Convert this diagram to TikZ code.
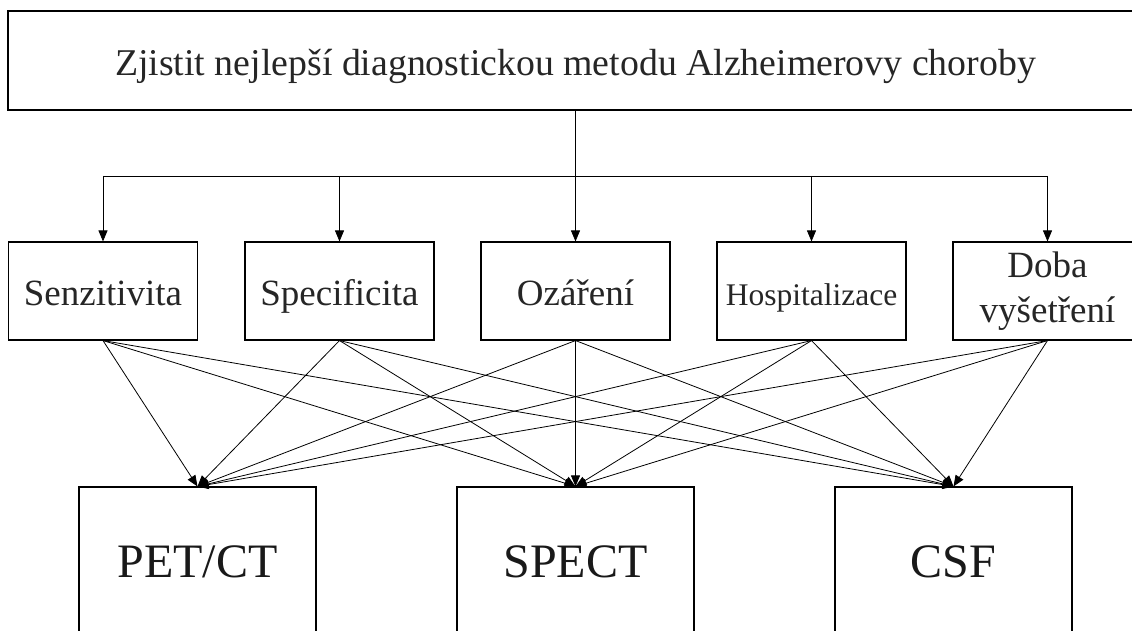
\documentclass[tikz,border=0pt]{standalone}
\usepackage{fontspec}
\setmainfont{Liberation Serif}
\usetikzlibrary{positioning, arrows.meta}

\tikzset{
  goalbox/.style={draw, line width=1.3pt, minimum width=1135pt, minimum height=99pt,
    inner sep=0pt, text height=33pt, text depth=2pt, text=black!85,
    font=\fontsize{37.8}{40}\selectfont},
  critbox/.style={draw, line width=1.1pt, minimum width=189pt, minimum height=98pt,
    inner sep=0pt, align=center, text=black!85, font=\fontsize{37}{45}\selectfont},
  onerow/.style={text height=30pt, text depth=2pt},
  methodbox/.style={draw, line width=1.1pt, minimum width=237pt, minimum height=150pt,
    inner sep=0pt, text=black!90, font=\fontsize{48}{52}\selectfont},
  link/.style={line width=0.8pt, -{Triangle[length=11pt,width=9pt]}},
}

\begin{document}
\begin{tikzpicture}[x=1pt, y=-1pt]

      \clip (0,0) rectangle (1132,631);
      \fill[white] (0,0) rectangle (1132,631);

      % Draw the goal box.
      \node[goalbox] (goal) at (575.5,60.5) {Zjistit nejlepší diagnostickou metodu Alzheimerovy choroby};

      % Draw the criteria boxes.
      \node[critbox, onerow] (senz) at (103,291) {Senzitivita};
      \node[critbox, onerow] (spec) at (339.5,291) {Specificita};
      \node[critbox, onerow] (ozar) at (575.5,291) {Ozáření};
      \node[critbox, onerow, font=\fontsize{31.5}{36}\selectfont] (hosp) at (811.5,291) {Hospitalizace};
      \node[critbox] (doba) at (1047.5,291) {Doba\\vyšetření};

      % Draw the method boxes.
      \node[methodbox] (pet) at (197.5,562) {PET/CT};
      \node[methodbox] (spect) at (575.5,562) {SPECT};
      \node[methodbox] (csf) at (953.5,562) {CSF};

      % Draw the branching arrows from the goal.
      \coordinate (bar) at (0,176);
      \draw[link] (goal.south) -- (ozar.north);
      \draw[line width=0.8pt] (bar -| senz.north) -- (bar -| doba.north);
      \draw[link] (bar -| senz.north) -- (senz.north); \draw[link] (bar -| spec.north)
      -- (spec.north); \draw[link] (bar -| hosp.north) -- (hosp.north); \draw[link]
      (bar -| doba.north) -- (doba.north);

      % Draw the arrows from every criterion to every method.
      \draw[link] (senz.south) -- (pet.north); \draw[link] (senz.south) -- (spect.north);
      \draw[link] (senz.south) -- (csf.north); \draw[link] (spec.south) -- (pet.north);
      \draw[link] (spec.south) -- (spect.north); \draw[link] (spec.south) -- (csf.north);
      \draw[link] (ozar.south) -- (pet.north); \draw[link] (ozar.south) -- (spect.north);
      \draw[link] (ozar.south) -- (csf.north); \draw[link] (hosp.south) -- (pet.north);
      \draw[link] (hosp.south) -- (spect.north); \draw[link] (hosp.south) -- (csf.north);
      \draw[link] (doba.south) -- (pet.north); \draw[link] (doba.south) -- (spect.north);
      \draw[link] (doba.south) -- (csf.north);
    \end{tikzpicture}
\end{document}
